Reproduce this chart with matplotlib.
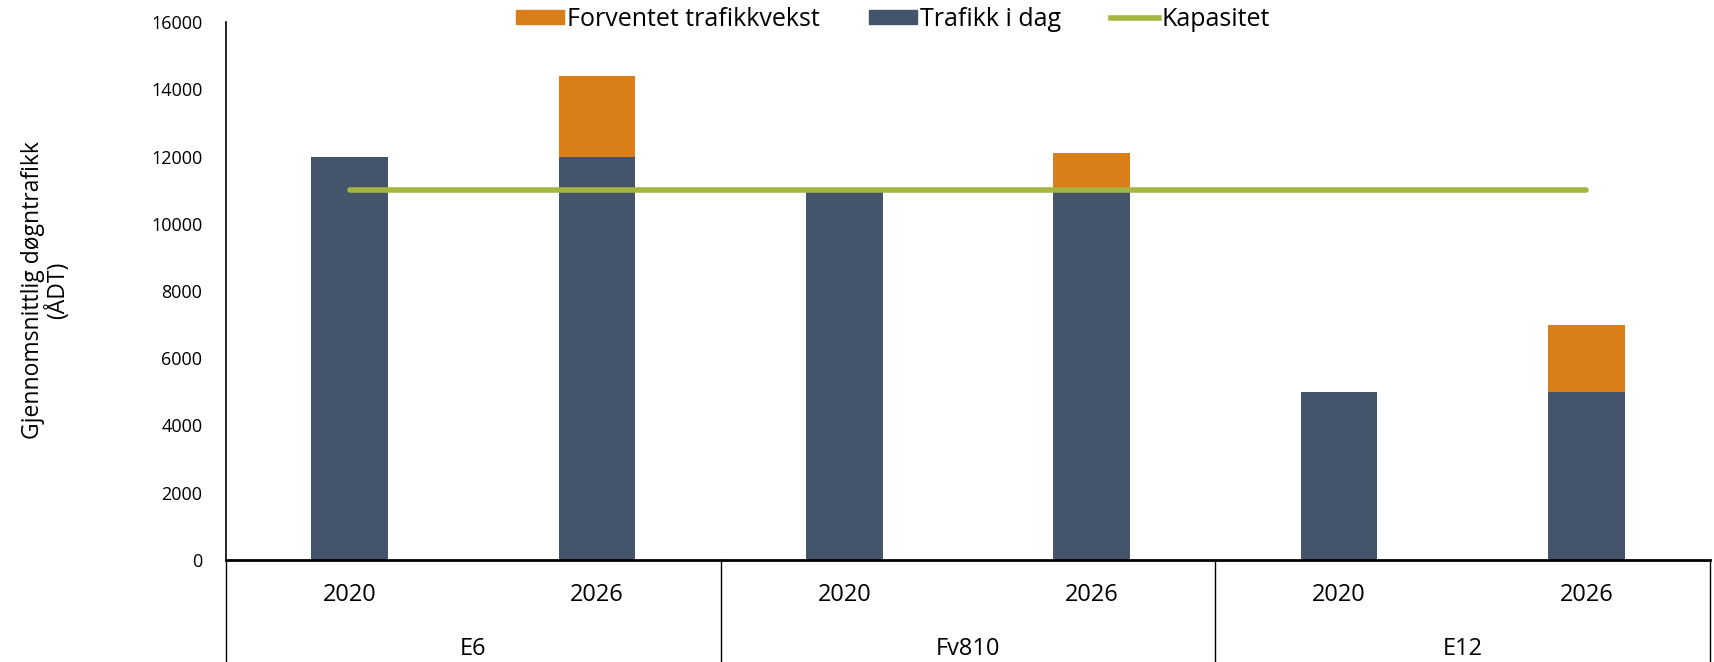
import matplotlib
matplotlib.use("Agg")
import matplotlib.pyplot as plt
import numpy as np
from matplotlib.patches import Patch
from matplotlib.lines import Line2D

plt.rcParams['font.family'] = ['Open Sans', 'DejaVu Sans']

roads = ['E6', 'Fv810', 'E12']
years = ['2020', '2026']
trafikk_i_dag = [12000, 12000, 11000, 11000, 5000, 5000]
vekst = [0, 2400, 0, 1100, 0, 2000]
kapasitet = [11000, 11000, 11000, 11000, 11000, 11000]

c_vekst = '#D97E18'
c_dag = '#44546A'
c_kap = '#A5B53F'

fig = plt.figure(figsize=(17.15, 6.62), dpi=100)
ax = fig.add_axes([226/1715, 102/662, (1710-226)/1715, 538/662])

x = np.arange(len(trafikk_i_dag))
ax.bar(x, trafikk_i_dag, width=0.31, color=c_dag, zorder=2)
ax.bar(x, vekst, width=0.31, bottom=trafikk_i_dag, color=c_vekst, zorder=2)
ax.plot(x, kapasitet, color=c_kap, lw=4, solid_capstyle='round', zorder=3)

ax.set_xlim(-0.5, len(x) - 0.5)
ax.set_ylim(0, 16000)
ax.set_yticks(range(0, 16001, 2000))
ax.tick_params(axis='y', length=0, labelsize=13, pad=17)
ax.set_xticks([])
for s in ['top', 'right']:
    ax.spines[s].set_visible(False)
ax.spines['left'].set_linewidth(1.2)
ax.spines['bottom'].set_linewidth(2)

# category axis: years and roads with separators
for i, xi in enumerate(x):
    ax.text(xi, -0.065, years[i % 2], transform=ax.get_xaxis_transform(),
            ha='center', va='center', fontsize=17)
for j, r in enumerate(roads):
    ax.text(2 * j + 0.5, -0.165, r, transform=ax.get_xaxis_transform(),
            ha='center', va='center', fontsize=17)
for b in [-0.5, 1.5, 3.5, 5.5]:
    ax.plot([b, b], [0, -0.2], transform=ax.get_xaxis_transform(),
            color='black', lw=1, clip_on=False)

fig.text(46/1715, 1 - 290/662, 'Gjennomsnittlig døgntrafikk\n(ÅDT)',
         rotation=90, ha='center', va='center', fontsize=16.5, linespacing=1.0)

handles = [Patch(color=c_vekst, label='Forventet trafikkvekst'),
           Patch(color=c_dag, label='Trafikk i dag'),
           Line2D([0], [0], color=c_kap, lw=4, label='Kapasitet')]
fig.legend(handles=handles, loc='center', bbox_to_anchor=(893/1715, 1 - 19/662),
           ncol=3, frameon=False, fontsize=18, handlelength=1.92,
           handleheight=0.5, handletextpad=0.1, columnspacing=2.0,
           borderpad=0)

fig.savefig('out.png', dpi=100)
